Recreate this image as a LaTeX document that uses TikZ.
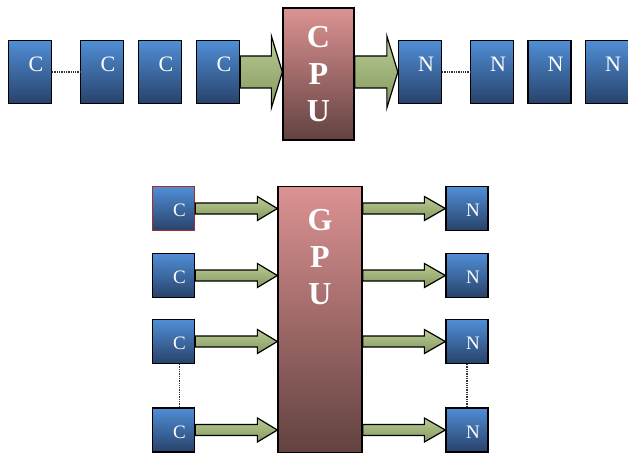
\documentclass[tikz,border=0pt]{standalone}
\usepackage{fontspec}
\setmainfont{Liberation Serif}
\usetikzlibrary{calc}

\definecolor{cellTop}{RGB}{80,142,214}
\definecolor{cellBot}{RGB}{40,66,106}
\definecolor{unitTop}{RGB}{220,146,146}
\definecolor{unitBot}{RGB}{98,66,64}
\definecolor{flowTop}{RGB}{184,204,148}
\definecolor{flowBot}{RGB}{132,152,94}
\definecolor{markRed}{RGB}{165,45,45}

\tikzset{
  cell/.style={draw=black, line width=1.3pt, top color=cellTop, bottom color=cellBot,
    inner sep=0pt, text=white},
  bigcell/.style={cell, minimum width=43pt, minimum height=63pt},
  smallcell/.style={cell, minimum width=42pt, minimum height=44pt},
  unitfont/.style={text=white, align=center, font=\fontsize{32}{37}\bfseries\selectfont},
  unit/.style={draw=black, line width=1.3pt, top color=unitTop, bottom color=unitBot,
    inner sep=0pt, unitfont},
  flow/.style={draw=black, line width=1.2pt, top color=flowTop, bottom color=flowBot},
  gap/.style={densely dotted, line width=1.3pt, black!80},
  toplbl/.style={label={[text=white, font=\fontsize{22}{22}\selectfont, xshift=6pt, yshift=7.5pt]center:#1}},
  botlbl/.style={label={[text=white, font=\fontsize{19}{19}\selectfont, xshift=6pt, yshift=-2pt]center:#1}},
}

% block arrow from #1 to the x of #2: shaft half-height #3, head half-height #4, head length #5
\newcommand\flowarrow[5]{%
  \path[flow] let \p1=(#1), \p2=(#2) in
    (\x1,\y1+#3) -- (\x2-#5,\y1+#3) -- (\x2-#5,\y1+#4) -- (\x2,\y1)
    -- (\x2-#5,\y1-#4) -- (\x2-#5,\y1-#3) -- (\x1,\y1-#3) -- cycle;}

\begin{document}
\begin{tikzpicture}[x=1pt,y=1pt]
\useasboundingbox (0,0) rectangle (628,453);

% ---- sequential processing ----
\node[bigcell, toplbl=C] (c1) at (30,381) {};
\node[bigcell, toplbl=C] (c2) at (102,381) {};
\node[bigcell, toplbl=C] (c3) at (160,381) {};
\node[bigcell, toplbl=C] (c4) at (218,381) {};
\node[unit, minimum width=71pt, minimum height=132pt] (cpu) at (318.5,379) {C\\P\\U};
\node[bigcell, toplbl=N] (n1) at (420,381) {};
\node[bigcell, toplbl=N] (n2) at (492,381) {};
\node[bigcell, toplbl=N] (n3) at (549.5,381) {};
\node[bigcell, toplbl=N] (n4) at (607,381) {};

\draw[gap] (c1.east) -- (c2.west);
\draw[gap] (n1.east) -- (n2.west);

\flowarrow{c4.east}{cpu.west |- c4.east}{16pt}{36pt}{11pt}
\flowarrow{cpu.east |- n1.west}{n1.west}{16pt}{36pt}{11pt}

% ---- parallel processing ----
\node[unit, minimum width=84pt, minimum height=266pt, anchor=north] (gpu) at (320,267) {};
\node[unitfont, anchor=north] (gpulbl) at (320,247) {G\\P\\U};

\node[smallcell, botlbl=C, draw=markRed] (g1) at (173.5,244.5) {};
\node[smallcell, botlbl=C] (g2) at (173.5,177.5) {};
\node[smallcell, botlbl=C] (g3) at (173.5,111.5) {};
\node[smallcell, botlbl=C] (g4) at (173.5,23) {};

\node[smallcell, botlbl=N] (m1) at (467,244.5) {};
\node[smallcell, botlbl=N] (m2) at (467,177.5) {};
\node[smallcell, botlbl=N] (m3) at (467,111.5) {};
\node[smallcell, botlbl=N] (m4) at (467,23) {};

\draw[gap] (g3.south) ++(6pt,0) -- ($(g4.north)+(6pt,0)$);
\draw[gap] (m3.south) -- (m4.north);

\foreach \i in {1,2,3,4}{
  \flowarrow{g\i.east}{gpu.west |- g\i.east}{5.5pt}{12pt}{20pt}
  \flowarrow{gpu.east |- m\i.west}{m\i.west}{5.5pt}{12pt}{21pt}
}
\end{tikzpicture}
\end{document}
